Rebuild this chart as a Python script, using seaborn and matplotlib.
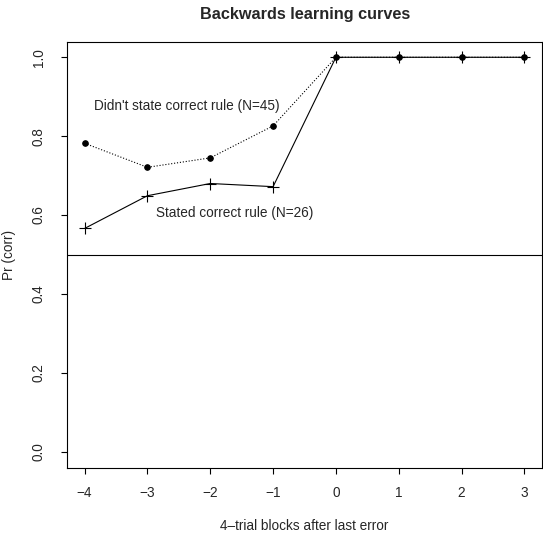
import matplotlib
matplotlib.use("Agg")
import matplotlib.pyplot as plt
import seaborn as sns
import pandas as pd

# blocks relative to the last error
blocks = [-4, -3, -2, -1, 0, 1, 2, 3]
# proportion correct, subjects who did not state the rule
not_stated = [0.782, 0.721, 0.745, 0.826, 1.0, 1.0, 1.0, 1.0]
# proportion correct, subjects who stated the rule
stated = [0.566, 0.649, 0.680, 0.672, 1.0, 1.0, 1.0, 1.0]

y_ticks = [0.0, 0.2, 0.4, 0.6, 0.8, 1.0]
chance = 0.5

sns.set_style("white")
plt.rcParams['font.family'] = ['Liberation Sans', 'DejaVu Sans']
plt.rcParams['axes.unicode_minus'] = True

df_not = pd.DataFrame({'block': blocks, 'pr': not_stated})
df_yes = pd.DataFrame({'block': blocks, 'pr': stated})

fig = plt.figure(figsize=(5.43, 5.33), dpi=100)
ax = fig.add_axes([67 / 543, 1 - 467.5 / 533, 475 / 543, 426 / 533])

sns.lineplot(data=df_not, x='block', y='pr', ax=ax, color='black',
             linestyle=':', linewidth=0.8, marker='o', markersize=4,
             markeredgecolor='black', markerfacecolor='black')
sns.lineplot(data=df_yes, x='block', y='pr', ax=ax, color='black',
             linestyle='-', linewidth=0.8, marker='+', markersize=8,
             markeredgewidth=0.8, markeredgecolor='black')

ax.axhline(chance, color='black', linewidth=0.8)

ax.text(-2.38, 0.877, "Didn't state correct rule (N=45)", ha='center',
        va='center', fontsize=9.8)
ax.text(-1.61, 0.604, "Stated correct rule (N=26)", ha='center',
        va='center', fontsize=9.8)

ax.set_xlim(-4.28, 3.28)
ax.set_ylim(-0.04, 1.04)
ax.set_xticks(blocks)
ax.set_yticks(y_ticks)
ax.set_yticklabels([f"{v:.1f}" for v in y_ticks], rotation=90, va='center')

ax.tick_params(axis='both', direction='out', length=4.3, width=0.8,
               labelsize=9.8, bottom=True, left=True, color='black')
ax.tick_params(axis='x', pad=9)
ax.tick_params(axis='y', pad=11)
for sp in ax.spines.values():
    sp.set_color('black')
    sp.set_linewidth(0.8)

ax.set_xlabel("4\u2013trial blocks after last error", fontsize=9.8, labelpad=14)
ax.set_ylabel("Pr (corr)", fontsize=9.8)
ax.yaxis.set_label_coords(-0.107, 0.5)
fig.suptitle("Backwards learning curves", fontsize=11.7, fontweight='bold',
             x=305 / 543, y=1 - 7 / 533, va='top')

fig.savefig("out.png", dpi=100)
